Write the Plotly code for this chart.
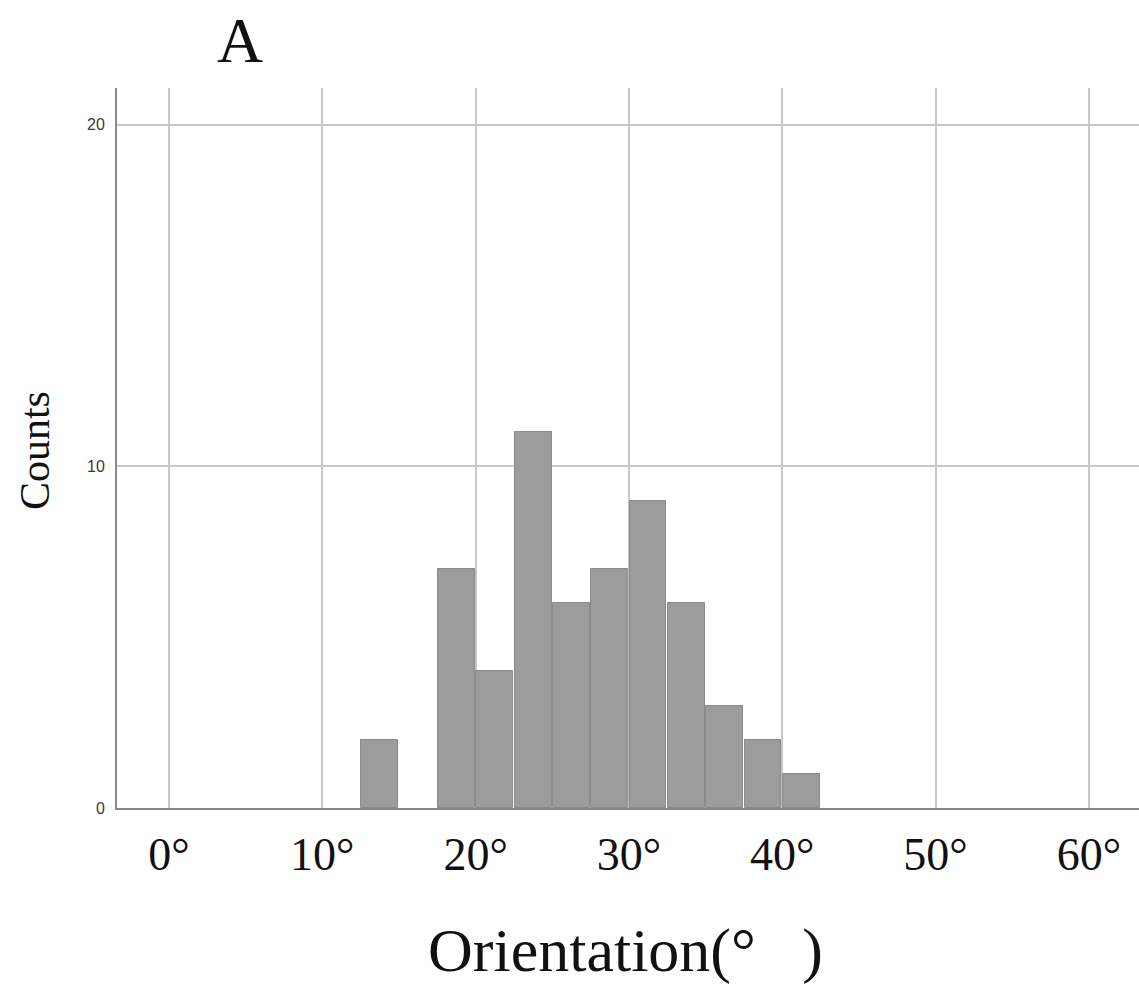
import plotly.graph_objects as go

# Histogram data (bin centres in degrees, bin width 2.5)
bin_centers = [13.75, 18.75, 21.25, 23.75, 26.25, 28.75, 31.25, 33.75, 36.25, 38.75, 41.25]
counts = [2, 7, 4, 11, 6, 7, 9, 6, 3, 2, 1]
bin_width = 2.5

x_tickvals = [0, 10, 20, 30, 40, 50, 60]
x_ticktext = ["0°", "10°", "20°", "30°", "40°", "50°", "60°"]
y_tickvals = [0, 10, 20]
y_ticktext = ["0", "10", "20"]

serif = "Liberation Serif, Times New Roman, serif"

fig = go.Figure()
fig.add_trace(go.Bar(
    x=bin_centers,
    y=counts,
    width=[bin_width * 0.96] * len(counts),
    marker=dict(color="#9c9c9c", line=dict(color="#8a8a8a", width=1)),
    showlegend=False,
))

fig.update_layout(
    width=1139,
    height=991,
    paper_bgcolor="white",
    plot_bgcolor="white",
    margin=dict(l=117, r=0, t=88, b=183),
    bargap=0,
    xaxis=dict(
        range=[-3.39, 63.27],
        tickmode="array",
        tickvals=x_tickvals,
        ticktext=x_ticktext,
        tickfont=dict(family=serif, size=46, color="#111111"),
        showgrid=True,
        gridcolor="#c8c8c8",
        gridwidth=2,
        showline=True,
        linecolor="#8a8a8a",
        linewidth=2,
        zeroline=False,
        ticks="",
        ticklabelstandoff=5,
    ),
    yaxis=dict(
        range=[0, 21.08],
        tickmode="array",
        tickvals=y_tickvals,
        ticktext=y_ticktext,
        tickfont=dict(family="Liberation Sans, Arial, sans-serif", size=16, color="#3a3a3a"),
        showgrid=True,
        gridcolor="#c8c8c8",
        gridwidth=2,
        showline=True,
        linecolor="#8a8a8a",
        linewidth=2,
        zeroline=False,
        ticks="",
        ticklabelstandoff=7,
    ),
    annotations=[
        dict(text="A", xref="paper", yref="paper", x=0.1204, y=1.118,
             showarrow=False, font=dict(family=serif, size=64, color="#111111"),
             xanchor="center", yanchor="top"),
        dict(text="Counts", xref="paper", yref="paper", x=-0.0803, y=0.497,
             textangle=-90, showarrow=False,
             font=dict(family=serif, size=42, color="#111111"),
             xanchor="center", yanchor="middle"),
        dict(text="Orientation(°\u00a0\u00a0\u00a0)", xref="paper", yref="paper",
             x=0.4979, y=-0.249, showarrow=False,
             font=dict(family=serif, size=62, color="#111111"),
             xanchor="center", yanchor="bottom"),
    ],
)

fig.write_html(
    "out.html",
    config={"displayModeBar": False},
    post_script="document.body.style.margin='0';document.body.style.overflow='hidden';",
)
